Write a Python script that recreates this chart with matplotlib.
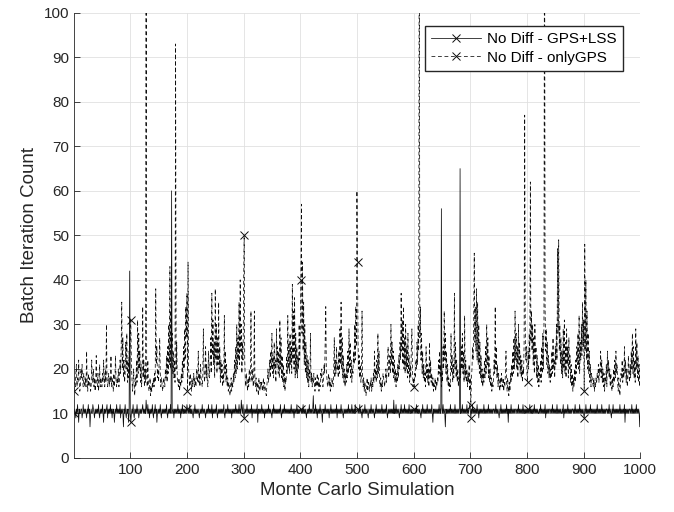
import numpy as np
import matplotlib
matplotlib.use("Agg")
import matplotlib.pyplot as plt

plt.rcParams["font.family"] = ["Liberation Sans", "DejaVu Sans"]

# iteration counts per Monte Carlo run (1..1000)
gps_lss = [
    10, 11, 10, 9, 11, 10, 12, 10, 8, 11, 10, 10, 11, 11, 9, 10, 12, 10, 11, 10,
    11, 10, 9, 11, 10, 12, 10, 11, 7, 10, 11, 10, 10, 12, 11, 10, 9, 11, 10, 11,
    10, 11, 10, 12, 10, 9, 11, 10, 11, 10, 12, 10, 8, 11, 10, 11, 10, 11, 12, 9,
    11, 10, 11, 10, 12, 10, 11, 9, 11, 10, 11, 8, 10, 11, 10, 12, 10, 11, 10, 11,
    10, 12, 9, 11, 10, 11, 10, 7, 11, 10, 12, 10, 9, 11, 10, 11, 8, 10, 42, 10,
    8, 10, 11, 10, 12, 10, 9, 11, 10, 11, 10, 12, 10, 11, 9, 10, 11, 10, 11, 10,
    11, 12, 10, 11, 10, 11, 10, 13, 11, 10, 12, 10, 11, 9, 11, 10, 11, 10, 12, 10,
    9, 11, 10, 12, 10, 11, 8, 10, 11, 10, 11, 10, 12, 10, 9, 11, 10, 11, 10, 11,
    10, 11, 10, 12, 10, 9, 11, 10, 11, 10, 12, 10, 60, 11, 10, 11, 9, 11, 10, 11,
    10, 11, 10, 12, 10, 11, 10, 11, 9, 11, 10, 12, 10, 11, 10, 11, 10, 11, 10, 12,
    11, 10, 11, 10, 12, 10, 11, 10, 11, 10, 9, 11, 10, 12, 10, 11, 10, 11, 10, 11,
    10, 9, 11, 10, 11, 10, 12, 10, 11, 10, 11, 10, 9, 11, 10, 11, 10, 12, 10, 11,
    10, 11, 10, 12, 9, 11, 10, 11, 10, 11, 10, 12, 10, 9, 11, 10, 11, 10, 11, 10,
    11, 10, 11, 10, 12, 10, 9, 11, 10, 11, 10, 12, 10, 11, 10, 11, 10, 11, 9, 11,
    10, 11, 10, 11, 10, 12, 10, 11, 10, 11, 10, 12, 10, 11, 10, 13, 11, 10, 12, 10,
    9, 11, 10, 11, 10, 12, 10, 11, 10, 11, 10, 11, 10, 12, 9, 11, 10, 11, 10, 11,
    10, 11, 10, 12, 8, 11, 10, 11, 10, 11, 10, 12, 10, 11, 10, 11, 9, 11, 10, 11,
    10, 11, 10, 12, 10, 11, 10, 11, 10, 9, 11, 10, 12, 10, 11, 10, 11, 10, 11, 10,
    11, 10, 11, 10, 12, 10, 9, 11, 10, 11, 10, 12, 10, 11, 10, 11, 10, 11, 10, 11,
    10, 11, 10, 12, 10, 11, 10, 11, 9, 11, 10, 11, 10, 12, 10, 11, 10, 11, 10, 11,
    11, 10, 11, 10, 12, 10, 11, 10, 11, 10, 9, 11, 10, 11, 10, 12, 10, 11, 10, 11,
    10, 11, 14, 10, 11, 10, 12, 10, 11, 9, 11, 10, 11, 10, 12, 10, 11, 10, 8, 11,
    10, 11, 10, 12, 10, 11, 10, 11, 10, 11, 9, 11, 10, 12, 10, 11, 10, 11, 10, 11,
    10, 11, 10, 12, 9, 11, 10, 11, 10, 11, 10, 12, 10, 11, 10, 9, 11, 10, 11, 10,
    11, 10, 11, 10, 12, 10, 11, 10, 11, 10, 12, 10, 11, 10, 11, 10, 12, 10, 11, 11,
    11, 10, 11, 10, 12, 10, 11, 10, 9, 11, 10, 11, 10, 12, 10, 11, 10, 11, 10, 9,
    11, 10, 11, 10, 12, 10, 11, 10, 11, 10, 9, 11, 10, 12, 10, 11, 10, 11, 10, 11,
    10, 11, 10, 12, 10, 11, 10, 11, 10, 11, 10, 12, 10, 9, 11, 10, 11, 10, 11, 10,
    11, 10, 11, 10, 13, 10, 11, 10, 12, 10, 11, 10, 11, 10, 9, 11, 10, 12, 10, 11,
    10, 11, 10, 12, 10, 11, 10, 11, 10, 11, 10, 12, 10, 11, 10, 11, 10, 11, 10, 11,
    11, 10, 11, 10, 12, 10, 11, 10, 11, 10, 11, 10, 9, 11, 10, 12, 10, 11, 10, 11,
    10, 11, 10, 12, 10, 11, 10, 11, 10, 11, 10, 12, 10, 8, 11, 10, 11, 10, 11, 10,
    11, 10, 11, 10, 12, 10, 11, 10, 56, 11, 10, 12, 10, 11, 10, 7, 11, 10, 11, 10,
    11, 10, 11, 10, 12, 10, 11, 10, 11, 10, 11, 10, 12, 10, 11, 10, 11, 10, 11, 10,
    11, 65, 10, 11, 10, 12, 10, 11, 10, 11, 10, 11, 10, 12, 10, 11, 10, 11, 12, 11,
    9, 11, 10, 12, 10, 11, 10, 11, 10, 11, 10, 12, 10, 11, 9, 11, 10, 11, 10, 11,
    10, 11, 10, 12, 10, 11, 10, 11, 10, 11, 10, 12, 10, 11, 10, 11, 10, 11, 10, 11,
    11, 10, 11, 10, 12, 10, 11, 10, 11, 10, 9, 11, 10, 12, 10, 11, 10, 11, 10, 11,
    10, 11, 10, 12, 10, 11, 8, 11, 10, 11, 10, 12, 10, 11, 10, 11, 10, 11, 10, 11,
    11, 10, 11, 10, 12, 10, 11, 10, 11, 10, 11, 10, 12, 10, 11, 10, 11, 10, 11, 10,
    11, 10, 11, 10, 12, 10, 11, 10, 11, 10, 11, 10, 12, 10, 11, 10, 11, 10, 11, 10,
    10, 11, 10, 12, 10, 11, 10, 11, 10, 11, 10, 12, 9, 11, 10, 11, 10, 11, 10, 11,
    11, 10, 11, 10, 12, 10, 11, 10, 11, 10, 11, 10, 12, 10, 11, 10, 11, 10, 11, 10,
    10, 11, 10, 12, 9, 11, 10, 11, 10, 11, 10, 12, 10, 11, 10, 11, 10, 11, 10, 11,
    11, 10, 11, 10, 12, 10, 11, 10, 11, 10, 11, 10, 12, 10, 11, 10, 11, 10, 11, 10,
    9, 11, 10, 12, 10, 11, 10, 11, 10, 11, 10, 12, 10, 11, 10, 11, 10, 11, 10, 11,
    10, 11, 10, 12, 10, 11, 10, 11, 10, 11, 10, 12, 10, 11, 10, 11, 10, 11, 10, 11,
    11, 10, 11, 10, 12, 10, 11, 10, 9, 11, 10, 12, 10, 11, 10, 11, 10, 11, 10, 11,
    10, 11, 10, 12, 10, 11, 10, 11, 10, 11, 10, 12, 8, 11, 10, 11, 10, 11, 10, 11,
    11, 10, 11, 10, 12, 10, 11, 10, 11, 10, 11, 10, 12, 10, 11, 10, 11, 10, 7, 11,
]

only_gps = [
    15, 17, 16, 19, 21, 16, 18, 17, 22, 17, 15, 16, 20, 18, 21, 17, 16, 19, 17, 16,
    18, 16, 24, 17, 15, 19, 16, 18, 17, 15, 16, 22, 18, 17, 20, 16, 18, 15, 17, 23,
    17, 16, 19, 15, 17, 21, 16, 18, 17, 16, 19, 17, 22, 18, 16, 20, 17, 30, 18, 16,
    17, 19, 16, 18, 17, 23, 16, 18, 17, 15, 19, 16, 18, 23, 17, 16, 18, 17, 20, 16,
    18, 22, 19, 25, 35, 20, 27, 18, 22, 17, 19, 26, 20, 28, 17, 22, 18, 24, 19, 27,
    31, 21, 18, 15, 17, 20, 16, 14, 18, 16, 22, 17, 31, 19, 28, 20, 24, 17, 21, 16,
    19, 34, 18, 22, 16, 20, 17, 140, 18, 16, 22, 17, 15, 16, 18, 14, 16, 15, 17, 16,
    18, 16, 19, 17, 38, 21, 25, 18, 20, 17, 22, 27, 19, 16, 18, 17, 15, 16, 18, 17,
    16, 20, 18, 23, 17, 25, 19, 30, 21, 43, 20, 33, 25, 28, 19, 24, 18, 22, 17, 93,
    20, 26, 18, 17, 16, 18, 15, 17, 16, 19, 17, 22, 18, 25, 20, 29, 22, 34, 27, 37,
    15, 44, 20, 18, 16, 19, 17, 15, 18, 16, 17, 19, 16, 18, 17, 16, 20, 18, 17, 24,
    17, 19, 16, 21, 18, 17, 16, 18, 29, 20, 17, 19, 25, 18, 21, 17, 16, 24, 20, 18,
    22, 27, 19, 37, 23, 31, 21, 26, 18, 38, 22, 30, 19, 27, 21, 35, 20, 25, 17, 22,
    18, 21, 16, 19, 17, 32, 19, 24, 17, 21, 16, 18, 15, 17, 16, 14, 16, 18, 15, 17,
    16, 19, 17, 22, 18, 25, 19, 30, 20, 27, 22, 35, 21, 40, 24, 30, 19, 26, 22, 38,
    50, 22, 18, 16, 19, 17, 15, 18, 16, 20, 17, 19, 33, 18, 17, 20, 16, 18, 33, 17,
    16, 18, 15, 17, 16, 14, 18, 16, 15, 17, 16, 17, 15, 16, 18, 15, 17, 16, 15, 14,
    16, 18, 20, 17, 19, 22, 18, 24, 20, 28, 19, 23, 18, 26, 20, 22, 17, 29, 21, 25,
    19, 24, 18, 31, 20, 27, 18, 23, 17, 21, 16, 19, 15, 18, 17, 23, 19, 32, 20, 26,
    19, 28, 21, 25, 19, 39, 22, 33, 20, 36, 18, 28, 19, 25, 18, 23, 20, 30, 22, 27,
    40, 57, 28, 44, 24, 35, 21, 30, 19, 26, 18, 23, 17, 22, 16, 20, 18, 28, 17, 19,
    16, 18, 17, 19, 16, 15, 18, 16, 17, 19, 16, 18, 15, 17, 16, 19, 18, 20, 17, 16,
    18, 21, 19, 26, 34, 20, 18, 16, 17, 19, 16, 18, 15, 17, 16, 18, 17, 16, 19, 27,
    18, 22, 19, 25, 20, 21, 18, 24, 19, 29, 21, 35, 20, 27, 18, 23, 17, 20, 16, 19,
    17, 21, 18, 24, 19, 29, 20, 26, 18, 22, 17, 20, 19, 24, 21, 30, 22, 34, 25, 60,
    44, 26, 20, 23, 18, 21, 17, 19, 33, 18, 16, 18, 15, 17, 16, 14, 16, 18, 15, 17,
    16, 15, 17, 16, 18, 15, 17, 16, 19, 17, 24, 18, 20, 17, 22, 18, 28, 19, 24, 17,
    16, 18, 15, 17, 16, 19, 18, 17, 16, 18, 20, 17, 19, 22, 25, 18, 20, 23, 19, 30,
    21, 26, 19, 24, 18, 22, 17, 20, 16, 19, 17, 21, 18, 23, 20, 26, 22, 37, 24, 31,
    21, 34, 20, 27, 19, 30, 20, 25, 18, 28, 19, 23, 17, 21, 18, 25, 29, 20, 16, 18,
    16, 19, 18, 22, 20, 26, 21, 30, 24, 140, 27, 34, 22, 28, 19, 24, 18, 21, 17, 19,
    16, 25, 18, 21, 17, 20, 16, 26, 18, 22, 17, 19, 16, 18, 15, 17, 16, 18, 15, 17,
    16, 18, 17, 22, 19, 24, 18, 21, 16, 19, 17, 25, 20, 33, 22, 28, 19, 24, 17, 21,
    16, 18, 15, 17, 16, 28, 19, 23, 17, 21, 18, 37, 20, 26, 18, 22, 17, 20, 16, 18,
    17, 21, 18, 25, 20, 28, 19, 24, 17, 32, 18, 22, 17, 20, 16, 19, 17, 21, 15, 18,
    12, 18, 20, 25, 22, 30, 46, 26, 34, 24, 38, 22, 35, 21, 30, 19, 26, 18, 23, 17,
    20, 16, 19, 17, 22, 18, 25, 19, 30, 21, 27, 18, 23, 17, 20, 16, 18, 15, 17, 16,
    18, 22, 19, 34, 20, 25, 18, 21, 16, 19, 17, 15, 18, 16, 19, 17, 16, 18, 15, 17,
    16, 19, 24, 17, 15, 18, 16, 14, 17, 15, 19, 17, 21, 18, 24, 19, 27, 20, 33, 22,
    28, 20, 25, 18, 30, 21, 26, 19, 23, 18, 22, 17, 20, 19, 26, 77, 30, 22, 25, 19,
    17, 24, 20, 28, 22, 62, 26, 33, 24, 30, 21, 27, 19, 30, 22, 25, 18, 23, 17, 21,
    16, 19, 18, 22, 17, 25, 19, 28, 20, 30, 140, 34, 24, 29, 21, 26, 19, 23, 18, 21,
    17, 20, 18, 24, 19, 27, 20, 22, 18, 25, 21, 30, 22, 47, 28, 49, 24, 30, 21, 27,
    19, 24, 18, 29, 20, 31, 19, 26, 18, 29, 21, 25, 18, 27, 20, 23, 17, 21, 16, 19,
    15, 18, 16, 20, 17, 22, 19, 25, 21, 28, 20, 32, 19, 26, 22, 30, 23, 35, 25, 31,
    15, 48, 24, 40, 22, 33, 20, 28, 19, 24, 17, 21, 16, 19, 18, 17, 16, 18, 15, 17,
    16, 18, 17, 19, 18, 21, 17, 20, 19, 24, 18, 22, 17, 20, 16, 19, 15, 18, 17, 21,
    16, 24, 19, 22, 18, 20, 16, 19, 17, 15, 18, 16, 20, 17, 22, 18, 24, 19, 21, 17,
    15, 18, 16, 14, 17, 19, 18, 22, 17, 20, 18, 25, 19, 22, 17, 20, 16, 18, 23, 19,
    17, 21, 18, 24, 20, 28, 19, 25, 18, 22, 17, 29, 20, 26, 18, 23, 17, 21, 16, 19,
]

labels = ["No Diff - GPS+LSS", "No Diff - onlyGPS"]
xticks = list(range(100, 1001, 100))
yticks = list(range(0, 101, 10))

runs = np.arange(1, len(gps_lss) + 1)
marks = list(range(0, len(runs), 100))  # a marker every 100 runs

fig = plt.figure(figsize=(6.74, 5.12), dpi=100)
ax = fig.add_axes([0.110, 0.1055, 0.840, 0.8695])

ax.plot(runs, gps_lss, "-", color="0.05", lw=0.55, marker="x", ms=6,
        mew=0.7, markevery=marks, label=labels[0])
ax.plot(runs, only_gps, "--", color="0.05", lw=0.55, marker="x", ms=6,
        mew=0.7, markevery=marks, dashes=(5, 3.5), label=labels[1])

ax.set_xlim(1, 1000)
ax.set_ylim(0, 100)
ax.set_xticks(xticks)
ax.set_yticks(yticks)
ax.tick_params(direction="in", length=4, width=0.6, color="0.15",
               labelsize=11, labelcolor="0.15")
ax.grid(True, color="0.88", lw=0.6)
ax.set_axisbelow(True)
for side in ("top", "right"):
    ax.spines[side].set_visible(False)
for side in ("left", "bottom"):
    ax.spines[side].set_color("0.15")
    ax.spines[side].set_linewidth(0.6)

ax.set_xlabel("Monte Carlo Simulation", fontsize=13.5, color="0.15")
ax.set_ylabel("Batch Iteration Count", fontsize=13.5, color="0.15")

ax.legend(loc="upper right", bbox_to_anchor=(623 / 674, 1 - 26 / 512),
          bbox_transform=fig.transFigure, borderaxespad=0, fancybox=False,
          framealpha=1, edgecolor="0.15", fontsize=11, handlelength=3.3,
          handletextpad=0.4, borderpad=0.4, labelspacing=0.3)

fig.savefig("out.png", dpi=100)
